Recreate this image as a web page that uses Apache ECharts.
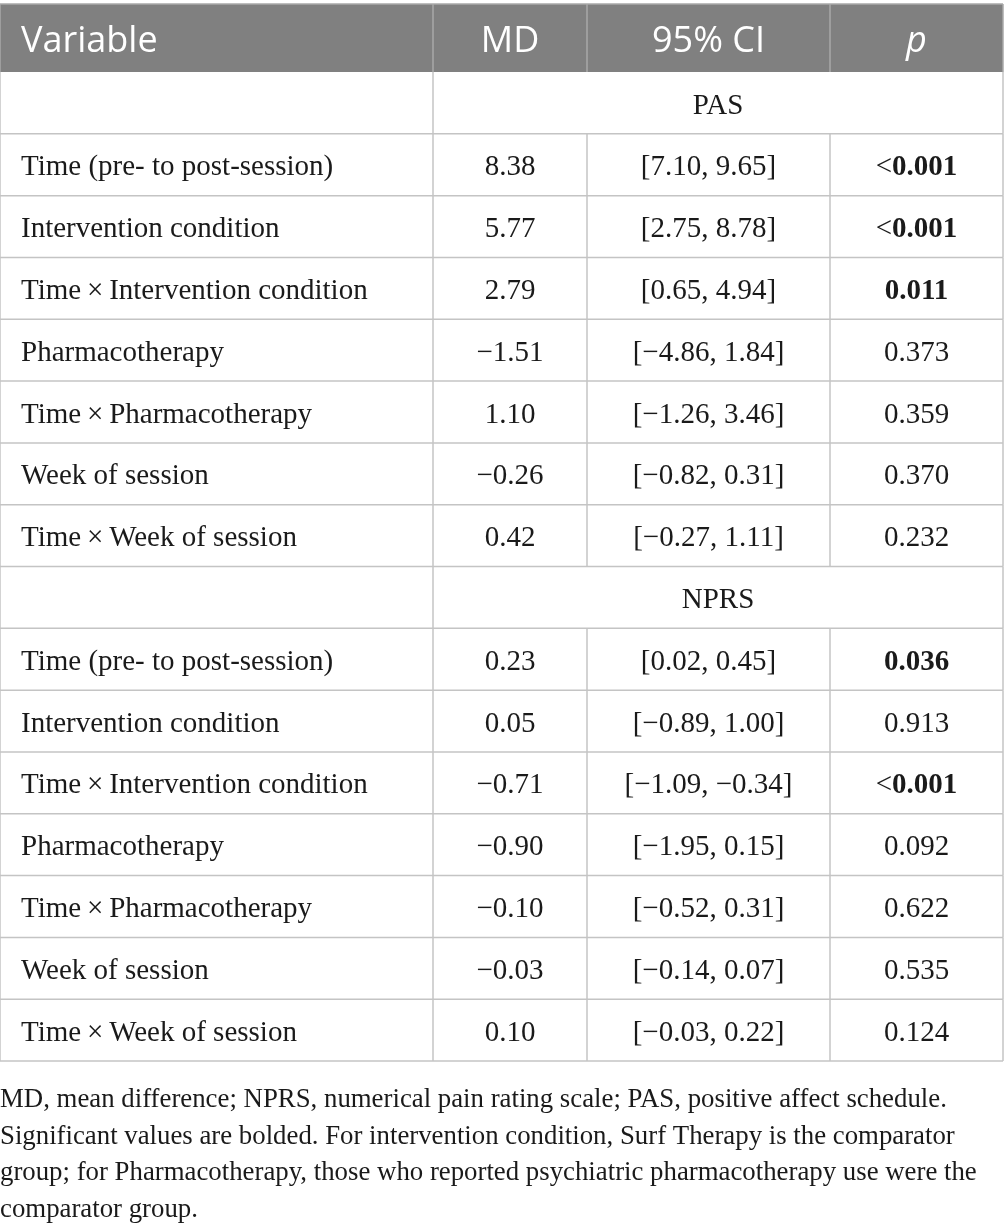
<!DOCTYPE html>
<html><head><meta charset="utf-8">
<script src="https://cdn.jsdelivr.net/npm/echarts@6/dist/echarts.min.js"></script>
<style>html,body{margin:0;padding:0;background:#fff}#c{width:1004px;height:1226px}</style>
</head><body><div id="c"></div>
<script>
const headers = ["Variable", "MD", "95% CI", "p"];
const sections = ["PAS", "NPRS"];
const variables = ["Time (pre- to post-session)", "Intervention condition", "Time\u2009×\u2009Intervention condition", "Pharmacotherapy", "Time\u2009×\u2009Pharmacotherapy", "Week of session", "Time\u2009×\u2009Week of session"];
const pasMD = [8.38, 5.77, 2.79, -1.51, 1.10, -0.26, 0.42];
const pasLow = [7.10, 2.75, 0.65, -4.86, -1.26, -0.82, -0.27];
const pasHigh = [9.65, 8.78, 4.94, 1.84, 3.46, 0.31, 1.11];
const pasP = ["<0.001", "<0.001", "0.011", "0.373", "0.359", "0.370", "0.232"];
const pasSig = [true, true, true, false, false, false, false];
const nprsMD = [0.23, 0.05, -0.71, -0.90, -0.10, -0.03, 0.10];
const nprsLow = [0.02, -0.89, -1.09, -1.95, -0.52, -0.14, -0.03];
const nprsHigh = [0.45, 1.00, -0.34, 0.15, 0.31, 0.07, 0.22];
const nprsP = ["0.036", "0.913", "<0.001", "0.092", "0.622", "0.535", "0.124"];
const nprsSig = [true, false, true, false, false, false, false];
const footnote = [
  "MD, mean difference; NPRS, numerical pain rating scale; PAS, positive affect schedule.",
  "Significant values are bolded. For intervention condition, Surf Therapy is the comparator",
  "group; for Pharmacotherapy, those who reported psychiatric pharmacotherapy use were the",
  "comparator group."
];

const colEdges = [0, 433, 587, 830, 1003];
const fmt = v => (v < 0 ? "\u2212" : "") + Math.abs(v).toFixed(2);

const rows = [];
function addSection(name, md, lo, hi, p, sig) {
  rows.push({type: "section", label: name});
  for (let i = 0; i < variables.length; i++) {
    rows.push({type: "data", cells: [variables[i], fmt(md[i]), "[" + fmt(lo[i]) + ", " + fmt(hi[i]) + "]", p[i]], sig: sig[i]});
  }
}
addSection(sections[0], pasMD, pasLow, pasHigh, pasP, pasSig);
addSection(sections[1], nprsMD, nprsLow, nprsHigh, nprsP, nprsSig);

const SERIF = "'Liberation Serif', 'DejaVu Serif', serif";
const SANS = "'Open Sans', 'Noto Sans', sans-serif";
const LINE = "#c4c4c4";
const FS = 29;
const DY = 3;

function renderBody(params, api) {
  const r = api.value(0);
  const row = rows[r];
  const top = api.coord([0, r])[1];
  const bot = api.coord([0, r + 1])[1];
  const cy = (top + bot) / 2 + DY;
  const xs = colEdges.map(e => api.coord([e, r])[0]);
  const children = [];
  children.push({type: "line", shape: {x1: xs[0], y1: bot, x2: xs[4], y2: bot}, style: {stroke: LINE, lineWidth: 1.5}});
  const vIdx = row.type === "section" ? [0, 1, 4] : [0, 1, 2, 3, 4];
  vIdx.forEach(k => children.push({type: "line", shape: {x1: xs[k], y1: top, x2: xs[k], y2: bot}, style: {stroke: LINE, lineWidth: 1.5}}));
  if (row.type === "section") {
    children.push({type: "text", style: {text: row.label, x: (xs[1] + xs[4]) / 2, y: cy, align: "center", verticalAlign: "middle", font: FS + "px " + SERIF, fill: "#1a1a1a"}});
  } else {
    children.push({type: "text", style: {text: row.cells[0], x: xs[0] + 21, y: cy, align: "left", verticalAlign: "middle", font: FS + "px " + SERIF, fill: "#1a1a1a"}});
    for (let k = 1; k < 4; k++) {
      const cx = (xs[k] + xs[k + 1]) / 2;
      if (k === 3 && row.sig) {
        const t = row.cells[3];
        const txt = t.startsWith("<") ? "{n|<}{b|" + t.slice(1) + "}" : "{b|" + t + "}";
        children.push({type: "text", style: {text: txt, x: cx, y: cy, align: "center", verticalAlign: "middle", fill: "#1a1a1a",
          rich: {n: {fontFamily: SERIF, fontSize: FS, fontWeight: "normal", fill: "#1a1a1a"}, b: {fontFamily: SERIF, fontSize: FS, fontWeight: "bold", fill: "#1a1a1a"}}}});
      } else {
        children.push({type: "text", style: {text: row.cells[k], x: cx, y: cy, align: "center", verticalAlign: "middle", font: FS + "px " + SERIF, fill: "#1a1a1a"}});
      }
    }
  }
  return {type: "group", children};
}

function renderHeader(params, api) {
  const top = api.coord([0, 0])[1];
  const bot = api.coord([0, 1])[1];
  const cy = (top + bot) / 2 + 4;
  const xs = colEdges.map(e => api.coord([e, 0])[0]);
  const children = [];
  children.push({type: "rect", shape: {x: xs[0], y: top, width: xs[4] - xs[0], height: bot - top}, style: {fill: "#808080"}});
  children.push({type: "line", shape: {x1: xs[0], y1: top, x2: xs[4], y2: top}, style: {stroke: "#a8a8a8", lineWidth: 1.5}});
  [0, 1, 2, 3, 4].forEach(k => children.push({type: "line", shape: {x1: xs[k], y1: top, x2: xs[k], y2: bot}, style: {stroke: "#a8a8a8", lineWidth: 1.5}}));
  children.push({type: "text", style: {text: headers[0], x: xs[0] + 21, y: cy, align: "left", verticalAlign: "middle", font: "36px " + SANS, fill: "#ffffff"}});
  for (let k = 1; k < 4; k++) {
    children.push({type: "text", style: {text: headers[k], x: (xs[k] + xs[k + 1]) / 2, y: cy, align: "center", verticalAlign: "middle", font: (k === 3 ? "italic " : "") + "36px " + SANS, fill: "#ffffff"}});
  }
  return {type: "group", children};
}

const chart = echarts.init(document.getElementById("c"), null, {renderer: "canvas"});
chart.setOption({
  animation: false,
  grid: [
    {left: 0, top: 4, width: 1004, height: 68},
    {left: 0, top: 72, width: 1004, height: 989}
  ],
  xAxis: [
    {gridIndex: 0, type: "value", min: 0, max: 1004, show: false},
    {gridIndex: 1, type: "value", min: 0, max: 1004, show: false}
  ],
  yAxis: [
    {gridIndex: 0, type: "value", min: 0, max: 1, inverse: true, show: false},
    {gridIndex: 1, type: "value", min: 0, max: rows.length, inverse: true, show: false}
  ],
  title: {
    text: footnote.join("\n"), left: 0, top: 1082, padding: 0,
    textStyle: {fontFamily: SERIF, fontSize: 26.8, fontWeight: "normal", color: "#1a1a1a", lineHeight: 36.5}
  },
  series: [
    {type: "custom", xAxisIndex: 0, yAxisIndex: 0, data: [[0]], renderItem: renderHeader, clip: false},
    {type: "custom", xAxisIndex: 1, yAxisIndex: 1, data: rows.map((r, i) => [i]), renderItem: renderBody, clip: false}
  ]
});
</script></body></html>
